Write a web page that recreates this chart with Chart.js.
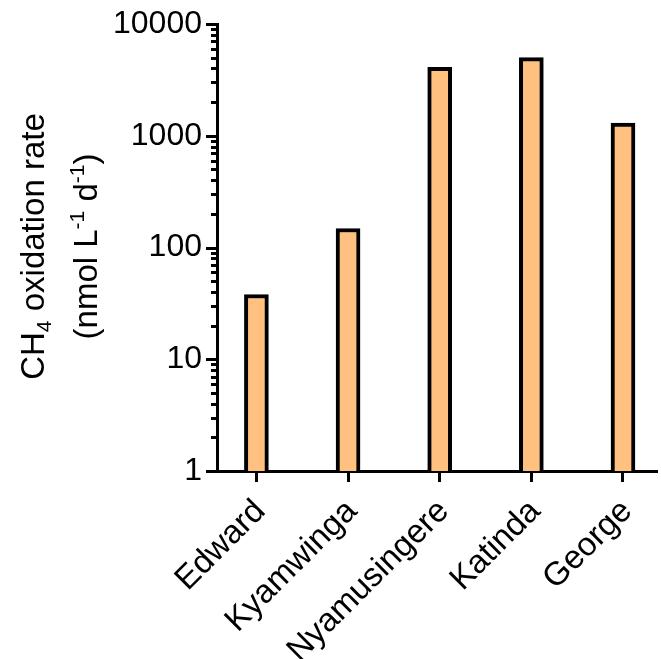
<!DOCTYPE html>
<html>
<head>
<meta charset="utf-8">
<script src="https://cdn.jsdelivr.net/npm/chart.js@4/dist/chart.umd.min.js"></script>
<style>
  html, body { margin: 0; padding: 0; background: #fff; }
  #wrap { width: 661px; height: 659px; }
</style>
</head>
<body>
<div id="wrap"><canvas id="chart"></canvas></div>
<script>
// Lakes and measured CH4 oxidation rates (nmol L-1 d-1)
const lakes = ['Edward', 'Kyamwinga', 'Nyamusingere', 'Katinda', 'George'];
const oxidationRate = [38, 148, 4100, 5000, 1300];

// Labelled decades on the log axis
const yTickValues = [1, 10, 100, 1000, 10000];

// Axis title, split into runs so sub/superscripts can be drawn
const titleLine1 = [{ t: 'CH' }, { t: '4', sub: true }, { t: ' oxidation rate' }];
const titleLine2 = [{ t: '(nmol L' }, { t: '-1', sup: true }, { t: ' d' }, { t: '-1', sup: true }, { t: ')' }];

const FONT = "'Liberation Sans', Arial, Helvetica, sans-serif";
Chart.defaults.font.family = FONT;
Chart.defaults.color = '#000';

// Major and minor ticks on the log axis (major longer than minor)
const logTicks = {
  id: 'logTicks',
  afterDraw(chart) {
    const s = chart.scales.y, c = chart.ctx;
    c.save();
    c.strokeStyle = '#000';
    c.lineWidth = 3;
    const draw = (v, len) => {
      const y = Math.round(s.getPixelForValue(v)) + 0.5;
      c.beginPath();
      c.moveTo(s.right - len, y);
      c.lineTo(s.right, y);
      c.stroke();
    };
    yTickValues.forEach((d, i) => {
      draw(d, 11);
      if (i < yTickValues.length - 1) {
        for (let m = 2; m <= 9; m++) draw(d * m, 6);
      }
    });
    c.restore();
  }
};

// Rotated two-line y title with sub/superscripts
const yTitle = {
  id: 'yTitle',
  afterDraw(chart) {
    const c = chart.ctx;
    const size = 33, small = 21;
    const area = chart.chartArea;
    const cy = (area.top + area.bottom) / 2 - 1;
    const line = (parts, baseX) => {
      c.save();
      c.translate(baseX, cy);
      c.rotate(-Math.PI / 2);
      c.fillStyle = '#000';
      c.textBaseline = 'alphabetic';
      c.textAlign = 'left';
      let total = 0;
      parts.forEach(p => {
        c.font = `${p.sub || p.sup ? small : size}px ${FONT}`;
        p.w = c.measureText(p.t).width;
        total += p.w;
      });
      let x = -total / 2;
      parts.forEach(p => {
        c.font = `${p.sub || p.sup ? small : size}px ${FONT}`;
        const dy = p.sub ? 7 : (p.sup ? -13 : 0);
        c.fillText(p.t, x, dy);
        x += p.w;
      });
      c.restore();
    };
    line(titleLine1, 44);
    line(titleLine2, 97);
  }
};

new Chart(document.getElementById('chart'), {
  type: 'bar',
  data: {
    datasets: [{
      data: lakes.map((name, i) => ({ x: i, y: oxidationRate[i] })),
      backgroundColor: '#FFC080',
      borderColor: '#000',
      borderWidth: 4,
      barThickness: 24
    }]
  },
  options: {
    responsive: true,
    maintainAspectRatio: false,
    animation: false,
    layout: { padding: { top: 24, right: 0, left: 0, bottom: 0 } },
    plugins: {
      legend: { display: false },
      tooltip: { enabled: false }
    },
    scales: {
      x: {
        type: 'linear',
        min: -0.43,
        max: 4.38,
        offset: false,
        afterBuildTicks: s => { s.ticks = lakes.map((_, i) => ({ value: i })); },
        afterFit: s => { s.height = 188; },
        ticks: {
          autoSkip: false,
          minRotation: 45,
          maxRotation: 45,
          padding: 10,
          labelOffset: 4,
          font: { size: 33 },
          color: '#000',
          callback: v => lakes[v]
        },
        grid: {
          drawOnChartArea: false,
          drawTicks: true,
          offset: false,
          tickLength: 11,
          tickWidth: 3,
          tickColor: '#000'
        },
        border: { display: true, color: '#000', width: 3 }
      },
      y: {
        type: 'logarithmic',
        min: 1,
        max: 10000,
        afterFit: s => { s.width = 217; },
        ticks: {
          autoSkip: false,
          padding: 4,
          font: { size: 32 },
          color: '#000',
          callback: v => yTickValues.includes(v) ? String(v) : ''
        },
        grid: {
          drawOnChartArea: false,
          drawTicks: true,
          tickLength: 11,
          tickColor: 'rgba(0,0,0,0)'
        },
        border: { display: true, color: '#000', width: 3 }
      }
    }
  },
  plugins: [logTicks, yTitle]
});
</script>
</body>
</html>
